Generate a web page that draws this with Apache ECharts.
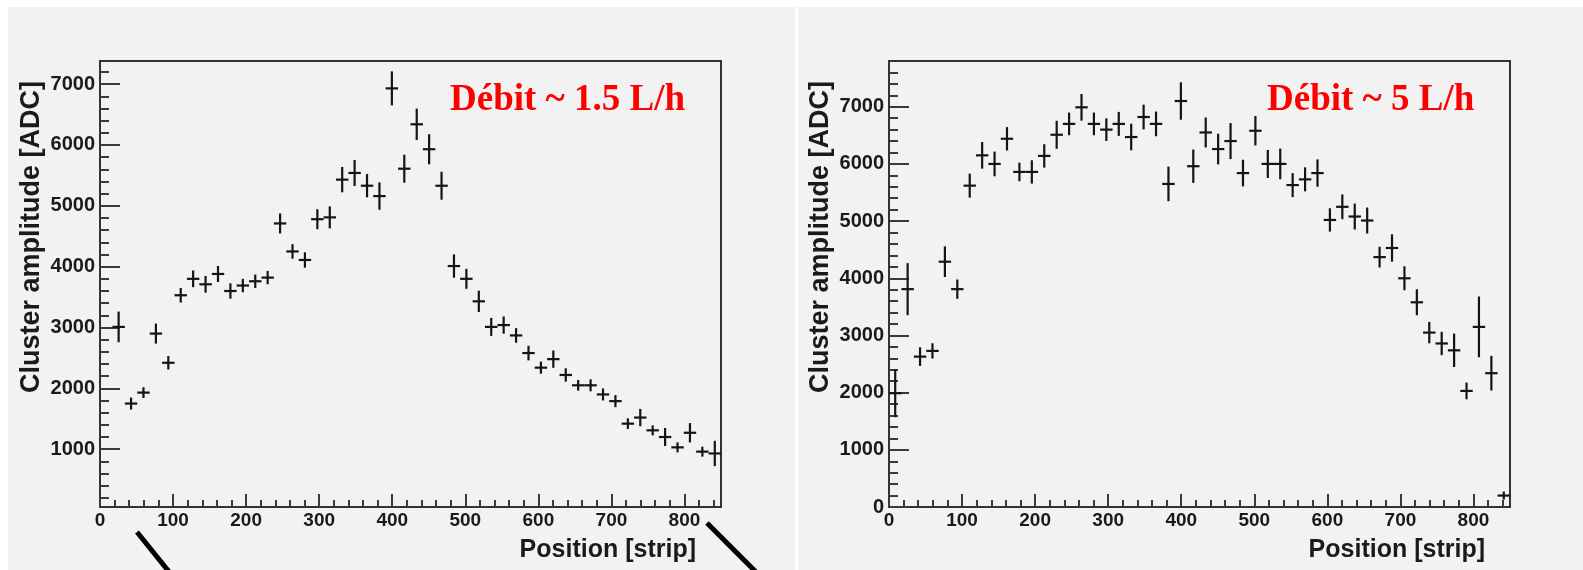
<!DOCTYPE html>
<html>
<head>
<meta charset="utf-8">
<script src="https://cdn.jsdelivr.net/npm/echarts@6/dist/echarts.min.js"></script>
<style>
html, body { margin: 0; padding: 0; background: #ffffff; }
#wrap { position: relative; width: 1583px; height: 570px; overflow: hidden; background: #ffffff; }
.bg { position: absolute; background: #f2f2f2; }
#chart { position: absolute; left: 0; top: 0; width: 1583px; height: 570px; }
</style>
</head>
<body>
<div id="wrap">
  <div class="bg" style="left:8px;top:7px;width:787px;height:563px"></div>
  <div class="bg" style="left:798px;top:7px;width:785px;height:563px"></div>
  <div id="chart"></div>
</div>
<script>
// ---------------- DATA ----------------
// Left panel: Débit ~ 1.5 L/h  (bin centres in strips, amplitude in ADC, error half-length in ADC)
const xLeft = [25.5, 42.5, 59.5, 76.5, 93.5, 110.5, 127.5, 144.5, 161.5, 178.5,
  195.5, 212.5, 229.5, 246.5, 263.5, 280.5, 297.5, 314.5, 331.5, 348.5,
  365.5, 382.5, 399.5, 416.5, 433.5, 450.5, 467.5, 484.5, 501.5, 518.5,
  535.5, 552.5, 569.5, 586.5, 603.5, 620.5, 637.5, 654.5, 671.5, 688.5,
  705.5, 722.5, 739.5, 756.5, 773.5, 790.5, 807.5, 824.5, 841.5];
const yLeft = [3010, 1750, 1930, 2900, 2420, 3530, 3800, 3710, 3880, 3600,
  3690, 3760, 3820, 4710, 4250, 4110, 4780, 4810, 5430, 5540,
  5330, 5160, 6930, 5610, 6340, 5930, 5330, 4010, 3800, 3430,
  3010, 3040, 2870, 2580, 2340, 2480, 2220, 2050, 2050, 1900,
  1790, 1420, 1520, 1310, 1200, 1030, 1270, 960, 930];
const errLeft = [252, 99, 88, 164, 110, 120, 137, 137, 131, 126,
  110, 110, 110, 164, 120, 126, 164, 181, 208, 214,
  192, 225, 279, 230, 257, 247, 230, 192, 164, 175,
  148, 142, 120, 120, 99, 142, 110, 88, 99, 99,
  99, 88, 142, 82, 148, 82, 159, 82, 208];

// Right panel: Débit ~ 5 L/h
const xRight = [8.5, 25.5, 42.5, 59.5, 76.5, 93.5, 110.5, 127.5, 144.5, 161.5,
  178.5, 195.5, 212.5, 229.5, 246.5, 263.5, 280.5, 297.5, 314.5, 331.5,
  348.5, 365.5, 382.5, 399.5, 416.5, 433.5, 450.5, 467.5, 484.5, 501.5,
  518.5, 535.5, 552.5, 569.5, 586.5, 603.5, 620.5, 637.5, 654.5, 671.5,
  688.5, 705.5, 722.5, 739.5, 756.5, 773.5, 790.5, 807.5, 824.5, 841.5];
const yRight = [1990, 3810, 2630, 2730, 4290, 3810, 5620, 6150, 6000, 6440,
  5860, 5860, 6140, 6510, 6700, 6990, 6700, 6600, 6700, 6470,
  6820, 6700, 5650, 7100, 5960, 6550, 6260, 6400, 5840, 6580,
  6000, 6000, 5630, 5730, 5840, 5020, 5250, 5080, 5010, 4370,
  4530, 4000, 3580, 3050, 2860, 2740, 2030, 3150, 2340, 200];
const errRight = [420, 455, 163, 134, 268, 169, 210, 233, 216, 204,
  163, 204, 204, 245, 198, 233, 198, 198, 210, 233,
  216, 216, 303, 327, 292, 262, 268, 315, 233, 257,
  245, 268, 210, 210, 239, 204, 216, 227, 227, 181,
  239, 210, 227, 187, 204, 292, 146, 531, 303, 70];

const binHalfWidth = 8.5; // strips

// Tick values / labels
const xTicks = [0, 100, 200, 300, 400, 500, 600, 700, 800];
const yTicksLeft = [1000, 2000, 3000, 4000, 5000, 6000, 7000];
const yTicksRight = [0, 1000, 2000, 3000, 4000, 5000, 6000, 7000];
const xRange = [0, 850];
const yRangeLeft = [50, 7380];
const yRangeRight = [0, 7800];

const titleLeft = 'Débit ~ 1.5 L/h';
const titleRight = 'Débit ~ 5 L/h';
const xName = 'Position [strip]';
const yName = 'Cluster amplitude [ADC]';

// ---------------- CHART ----------------
function minorRange(start, stop, step) {
  const out = [];
  for (let v = start; v <= stop + 1e-9; v += step) out.push(v);
  return out;
}
const xMinor = minorRange(20, 840, 20);
const yMinorLeft = minorRange(200, 7200, 200);
const yMinorRight = minorRange(200, 7600, 200);

const SANS = '"Liberation Sans", Arial, Helvetica, sans-serif';
const SERIF = '"Liberation Serif", "Times New Roman", serif';
const TICK_COLOR = '#3a3a3a';
const LABEL_COLOR = '#1a1a1a';
const plain = function (v) { return String(Math.round(v)); };

function xAxesFor(g) {
  return [
    {
      gridIndex: g, type: 'value', min: xRange[0], max: xRange[1], position: 'bottom',
      axisLine: { show: false }, splitLine: { show: false },
      axisTick: { show: true, inside: true, length: 13, customValues: xTicks,
        lineStyle: { color: TICK_COLOR, width: 2 } },
      axisLabel: { show: true, customValues: xTicks, margin: 4, color: LABEL_COLOR, formatter: plain,
        fontSize: 19, fontWeight: 'bold', fontFamily: SANS }
    },
    {
      gridIndex: g, type: 'value', min: xRange[0], max: xRange[1], position: 'bottom',
      axisLine: { show: false }, splitLine: { show: false },
      axisTick: { show: true, inside: true, length: 7, customValues: xMinor,
        lineStyle: { color: TICK_COLOR, width: 2 } },
      axisLabel: { show: false }
    }
  ];
}
function yAxesFor(g, range, major, minor) {
  return [
    {
      gridIndex: g, type: 'value', min: range[0], max: range[1], position: 'left',
      axisLine: { show: false }, splitLine: { show: false },
      axisTick: { show: true, inside: true, length: 20, customValues: major,
        lineStyle: { color: TICK_COLOR, width: 2 } },
      axisLabel: { show: true, customValues: major, margin: 5, color: LABEL_COLOR, formatter: plain,
        fontSize: 20, fontWeight: 'bold', fontFamily: SANS }
    },
    {
      gridIndex: g, type: 'value', min: range[0], max: range[1], position: 'left',
      axisLine: { show: false }, splitLine: { show: false },
      axisTick: { show: true, inside: true, length: 9, customValues: minor,
        lineStyle: { color: TICK_COLOR, width: 2 } },
      axisLabel: { show: false }
    }
  ];
}

function errSeries(xi, yi, xs, ys, es) {
  return {
    type: 'custom',
    xAxisIndex: xi, yAxisIndex: yi,
    silent: true, clip: true,
    data: xs.map((x, i) => [x, ys[i], es[i]]),
    encode: { x: 0, y: 1 },
    renderItem: function (params, api) {
      const x = api.value(0), y = api.value(1), e = api.value(2);
      const top = api.coord([x, y + e]);
      const bot = api.coord([x, y - e]);
      const l = api.coord([x - binHalfWidth, y]);
      const r = api.coord([x + binHalfWidth, y]);
      const st = { stroke: '#141414', lineWidth: 2.2 };
      return {
        type: 'group',
        children: [
          { type: 'line', shape: { x1: top[0], y1: top[1], x2: bot[0], y2: bot[1] }, style: st },
          { type: 'line', shape: { x1: l[0], y1: l[1], x2: r[0], y2: r[1] }, style: st }
        ]
      };
    }
  };
}

const chart = echarts.init(document.getElementById('chart'), null, { renderer: 'canvas' });

const gridStyle = { show: true, borderColor: '#333333', borderWidth: 2, backgroundColor: 'transparent' };

const option = {
  backgroundColor: 'transparent',
  animation: false,
  grid: [
    Object.assign({ left: 100, top: 61, width: 621, height: 446 }, gridStyle),
    Object.assign({ left: 889, top: 61, width: 621, height: 446 }, gridStyle)
  ],
  xAxis: [].concat(xAxesFor(0), xAxesFor(1)),
  yAxis: [].concat(yAxesFor(0, yRangeLeft, yTicksLeft, yMinorLeft),
                   yAxesFor(1, yRangeRight, yTicksRight, yMinorRight)),
  series: [
    errSeries(0, 0, xLeft, yLeft, errLeft),
    errSeries(2, 2, xRight, yRight, errRight)
  ],
  graphic: [
    { type: 'text', x: 450, y: 100, style: { text: titleLeft, fill: '#ff0000',
      font: 'bold 37px ' + SERIF, textAlign: 'left', textVerticalAlign: 'middle' } },
    { type: 'text', x: 1267, y: 100, style: { text: titleRight, fill: '#ff0000',
      font: 'bold 37px ' + SERIF, textAlign: 'left', textVerticalAlign: 'middle' } },
    { type: 'text', x: 32, y: 237, rotation: Math.PI / 2, style: { text: yName, fill: LABEL_COLOR,
      font: 'bold 27px ' + SANS, textAlign: 'center', textVerticalAlign: 'middle' } },
    { type: 'text', x: 821, y: 237, rotation: Math.PI / 2, style: { text: yName, fill: LABEL_COLOR,
      font: 'bold 27px ' + SANS, textAlign: 'center', textVerticalAlign: 'middle' } },
    { type: 'text', x: 696, y: 550, style: { text: xName, fill: LABEL_COLOR,
      font: 'bold 25px ' + SANS, textAlign: 'right', textVerticalAlign: 'middle' } },
    { type: 'text', x: 1485, y: 550, style: { text: xName, fill: LABEL_COLOR,
      font: 'bold 25px ' + SANS, textAlign: 'right', textVerticalAlign: 'middle' } },
    { type: 'line', shape: { x1: 137, y1: 532, x2: 170, y2: 573 },
      style: { stroke: '#000000', lineWidth: 5 } },
    { type: 'line', shape: { x1: 707, y1: 523, x2: 757, y2: 573 },
      style: { stroke: '#000000', lineWidth: 5 } }
  ]
};
chart.setOption(option);
</script>
</body>
</html>
